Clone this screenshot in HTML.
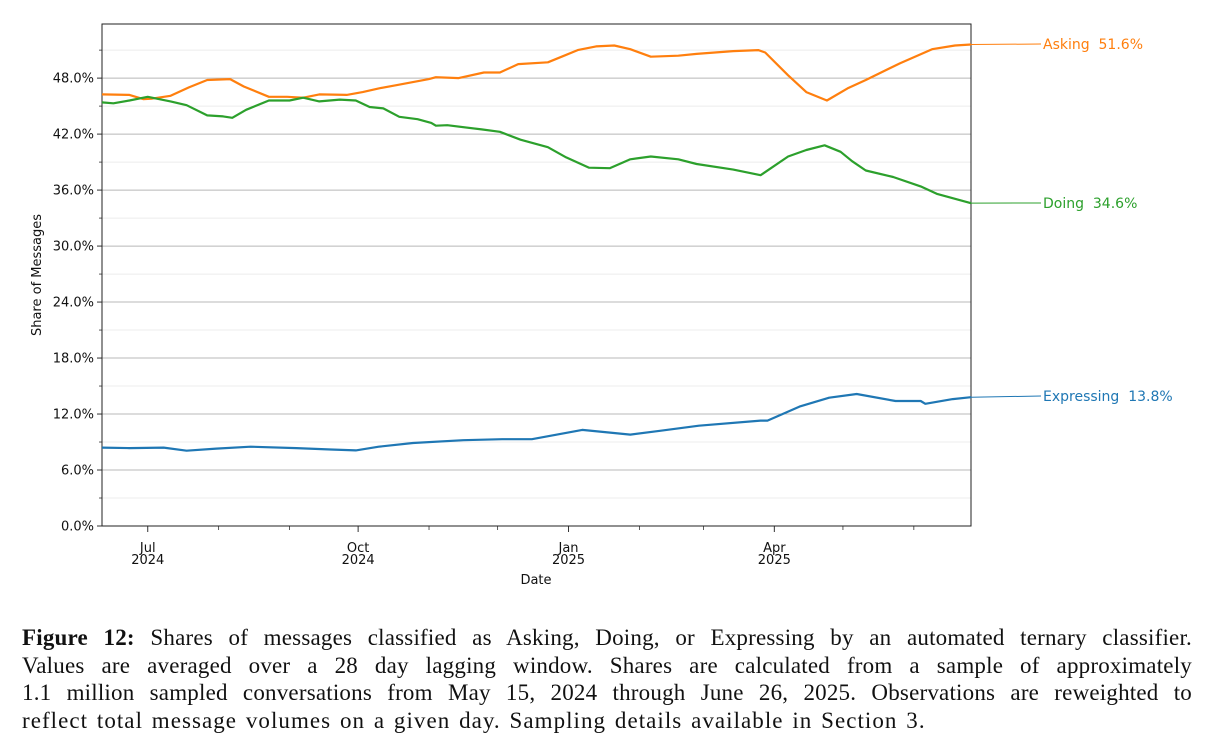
<!DOCTYPE html>
<html><head><meta charset="utf-8">
<style>
html,body{margin:0;padding:0;background:#fff;width:1224px;height:750px;overflow:hidden}
#cap{position:absolute;left:22px;top:624px;width:1170px;font-family:"Liberation Serif",serif;font-size:23px;letter-spacing:1.05px;word-spacing:2px;line-height:27.7px;color:#111}
#cap div{text-align:justify;text-align-last:justify;white-space:nowrap;overflow:visible}
#cap div.last{text-align-last:left}
</style></head><body>
<svg id="chart" width="1224" height="610" style="position:absolute;left:0;top:0" font-family="DejaVu Sans, Liberation Sans, sans-serif"></svg>
<div id="cap">
<div style="white-space:normal;letter-spacing:0.2px;word-spacing:0"><b>Figure 12:</b> Shares of messages classified as Asking, Doing, or Expressing by an automated ternary classifier.</div>
<div style="white-space:normal;letter-spacing:0.2px;word-spacing:0">Values are averaged over a 28 day lagging window. Shares are calculated from a sample of approximately</div>
<div style="white-space:normal;letter-spacing:0.2px;word-spacing:0">1.1 million sampled conversations from May 15, 2024 through June 26, 2025. Observations are reweighted to</div>
<div class="last">reflect total message volumes on a given day. Sampling details available in Section 3.</div>
</div>
<script>
// days since 2024-07-01
const askingDays=[-20,-8,-2,2,10,18,26,36,42,53,61,68,75,87,94,101,109,123,126,136,147,154,162,175,181,188,196,204,211,220,232,240,256,267,270,280,288,297,306,314,329,343,353,360];
const askingVals=[46.25,46.2,45.75,45.8,46.1,47.0,47.8,47.9,47.1,46.0,46.0,45.9,46.25,46.2,46.5,46.9,47.25,47.9,48.1,48.0,48.6,48.6,49.5,49.7,50.3,51.0,51.4,51.5,51.1,50.3,50.4,50.6,50.9,51.0,50.75,48.3,46.5,45.6,46.9,47.8,49.6,51.1,51.5,51.6];
const doingDays=[-20,-15,-8,0,10,17,26,33,37,43,53,62,68,75,84,91,97,103,110,118,124,126,131,146,154,163,175,183,193,202,211,220,232,240,256,268,280,288,296,303,308,314,326,338,345,360];
const doingVals=[45.4,45.3,45.6,46.0,45.5,45.1,44.0,43.9,43.75,44.6,45.6,45.6,45.9,45.5,45.7,45.6,44.9,44.75,43.85,43.6,43.2,42.9,42.95,42.5,42.25,41.4,40.6,39.5,38.4,38.35,39.3,39.6,39.3,38.8,38.2,37.6,39.6,40.3,40.8,40.1,39.1,38.1,37.4,36.4,35.6,34.6];
const expDays=[-20,-8,7,17,30,45,65,80,91,101,116,138,155,168,190,211,224,241,268,271,285,298,310,327,338,340,352,360];
const expVals=[8.4,8.35,8.4,8.07,8.3,8.5,8.35,8.2,8.1,8.5,8.9,9.2,9.3,9.3,10.3,9.8,10.2,10.75,11.3,11.3,12.8,13.75,14.15,13.4,13.4,13.1,13.6,13.8];
const yTicks=[0,6,12,18,24,30,36,42,48];
const yMinor=[3,9,15,21,27,33,39,45,51];
const xMajorDays=[0,92,184,274];
const xMajorLabels=[["Jul","2024"],["Oct","2024"],["Jan","2025"],["Apr","2025"]];
const xMinorDays=[31,62,123,153,215,243,304,335];
const seriesNames=["Asking","Doing","Expressing"];
const seriesColors=["#ff7f0e","#2ca02c","#1f77b4"];

const L=102,R=971,T=24,B=526,D0=-20,D1=360,YMAX=53.8;
const X=d=>L+(d-D0)/(D1-D0)*(R-L);
const Y=v=>B-v/YMAX*(B-T);
const svg=document.getElementById('chart');
const NS='http://www.w3.org/2000/svg';
function mk(t,a,p){const e=document.createElementNS(NS,t);for(const k in a)e.setAttribute(k,a[k]);(p||svg).appendChild(e);return e;}

yMinor.forEach(v=>{
  const g=mk('line',{x1:L,x2:R,y1:Y(v),y2:Y(v),stroke:'#ececec','stroke-width':1});
  
  
  const t=mk('line',{x1:L-3,x2:L,y1:Y(v),y2:Y(v),stroke:'#333','stroke-width':0.8});
  
  
});
yTicks.forEach(v=>{
  const g=mk('line',{x1:L,x2:R,y1:Y(v),y2:Y(v),stroke:'#b8b8b8','stroke-width':1});
  
  
  const t=mk('line',{x1:L-5,x2:L,y1:Y(v),y2:Y(v),stroke:'#333','stroke-width':1});
  
  
  const l=mk('text',{x:L-8,y:Y(v)+4.5,'text-anchor':'end','font-size':13,fill:'#111'});
  l.textContent=v.toFixed(1)+'%';
  
  
});
xMinorDays.forEach(d=>{
  const t=mk('line',{x1:X(d),x2:X(d),y1:B,y2:B+4,stroke:'#333','stroke-width':0.8});
  
  
});
xMajorDays.forEach((d,i)=>{
  const t=mk('line',{x1:X(d),x2:X(d),y1:B,y2:B+6,stroke:'#333','stroke-width':1});
  
  
  const l=mk('text',{x:X(d),y:B+26,'text-anchor':'middle','font-size':13,fill:'#111'});
  
  
  const s1=mk('tspan',{x:X(d),dy:0},l);s1.textContent=xMajorLabels[i][0];
  const s2=mk('tspan',{x:X(d),dy:12},l);s2.textContent=xMajorLabels[i][1];
});
const frame=mk('rect',{x:L,y:T,width:R-L,height:B-T,fill:'none',stroke:'#222','stroke-width':1});



const all=[[askingDays,askingVals],[doingDays,doingVals],[expDays,expVals]];
const labelY=[44,203,396];
all.forEach((s,i)=>{
  const pts=s[0].map((d,j)=>X(d).toFixed(1)+','+Y(s[1][j]).toFixed(1)).join(' ');
  const p=mk('polyline',{points:pts,fill:'none',stroke:seriesColors[i],'stroke-width':2.2,'stroke-linejoin':'round'});
  
  
  const last=s[1][s[1].length-1];
  const c=mk('line',{x1:R,y1:Y(last),x2:1041,y2:labelY[i],stroke:seriesColors[i],'stroke-width':1});
  
  
  const t=mk('text',{x:1043,y:labelY[i]+5,'font-size':14,fill:seriesColors[i]});
  t.textContent=seriesNames[i]+'\u00a0\u00a0'+last.toFixed(1)+'%';
  
  
});
const yt=mk('text',{x:41,y:275,'text-anchor':'middle','font-size':13,fill:'#111',transform:'rotate(-90 41 275)'});
yt.textContent='Share of Messages';


const xt=mk('text',{x:536,y:584,'text-anchor':'middle','font-size':13,fill:'#111'});
xt.textContent='Date';


</script>
</body></html>
